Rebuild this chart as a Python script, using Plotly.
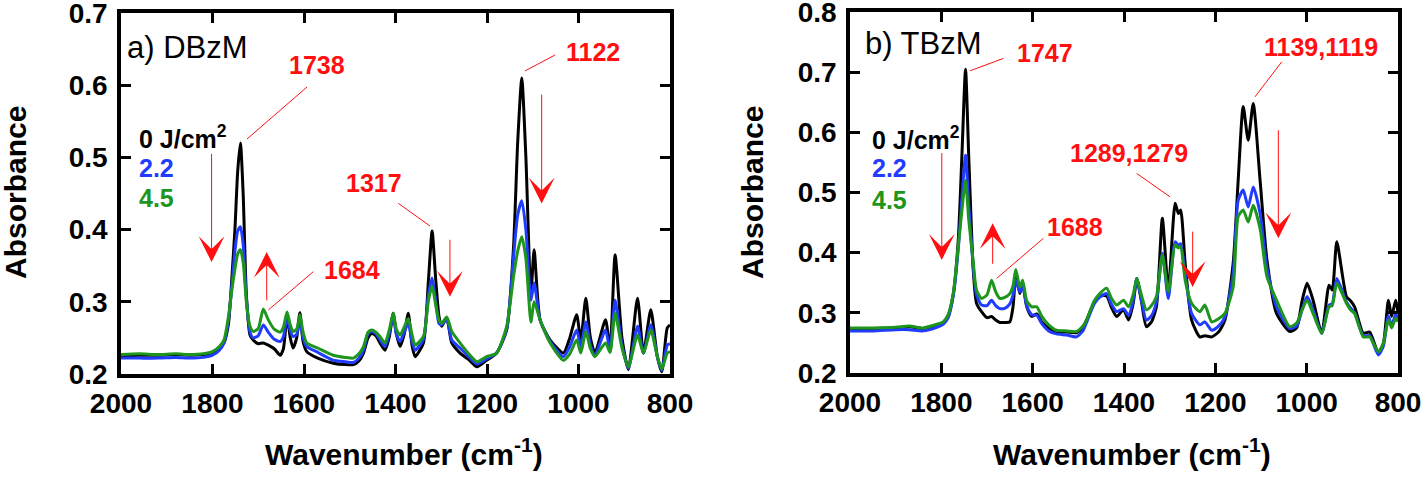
import plotly.graph_objects as go

# ---- panel a) DBzM : wavenumber (cm-1) and absorbance after 0, 2.2, 4.5 J/cm2
wnA = [2000, 1960, 1920, 1880, 1850, 1820, 1800, 1785, 1775, 1765, 1758, 1751, 1745, 1739,
       1733, 1726, 1718, 1711, 1700, 1689, 1678, 1665, 1652, 1645, 1637, 1630, 1624, 1616,
       1609, 1602, 1594, 1570, 1536, 1510, 1492, 1480, 1470, 1460, 1452, 1443, 1434, 1423,
       1414, 1405, 1398, 1390, 1381, 1372, 1364, 1357, 1339, 1328, 1320, 1312, 1305, 1299,
       1288, 1277, 1259, 1240, 1222, 1201, 1179, 1157, 1142, 1133, 1124, 1115, 1104, 1097,
       1084, 1062, 1033, 1019, 1004, 995, 984, 974, 964, 941, 931, 920, 905, 891,
       871, 858, 842, 828, 818, 806, 800]
a_0 = [0.225, 0.226, 0.226, 0.227, 0.226, 0.227, 0.229, 0.235, 0.243, 0.270, 0.330, 0.400, 0.480, 0.520,
       0.450, 0.310, 0.254, 0.247, 0.242, 0.243, 0.240, 0.235, 0.226, 0.235, 0.280, 0.250, 0.236, 0.250,
       0.285, 0.245, 0.231, 0.222, 0.215, 0.213, 0.213, 0.218, 0.229, 0.250, 0.256, 0.253, 0.243, 0.233,
       0.250, 0.284, 0.255, 0.238, 0.255, 0.284, 0.240, 0.224, 0.243, 0.330, 0.398, 0.330, 0.280, 0.266,
       0.278, 0.243, 0.229, 0.220, 0.210, 0.219, 0.229, 0.261, 0.376, 0.520, 0.610, 0.500, 0.312, 0.372,
       0.275, 0.247, 0.229, 0.250, 0.282, 0.247, 0.305, 0.250, 0.229, 0.275, 0.235, 0.365, 0.250, 0.206,
       0.305, 0.229, 0.289, 0.225, 0.203, 0.264, 0.268]
a_22 = [0.222, 0.222, 0.222, 0.223, 0.222, 0.223, 0.226, 0.233, 0.243, 0.275, 0.320, 0.370, 0.398, 0.404,
        0.380, 0.305, 0.258, 0.250, 0.253, 0.268, 0.258, 0.248, 0.245, 0.252, 0.279, 0.260, 0.252, 0.255,
        0.275, 0.250, 0.238, 0.230, 0.219, 0.217, 0.216, 0.222, 0.233, 0.256, 0.259, 0.256, 0.248, 0.238,
        0.255, 0.280, 0.255, 0.245, 0.258, 0.270, 0.245, 0.233, 0.248, 0.310, 0.333, 0.300, 0.270, 0.268,
        0.276, 0.247, 0.236, 0.224, 0.214, 0.221, 0.229, 0.263, 0.362, 0.420, 0.440, 0.400, 0.302, 0.326,
        0.275, 0.245, 0.224, 0.238, 0.261, 0.238, 0.272, 0.240, 0.226, 0.261, 0.232, 0.302, 0.240, 0.208,
        0.266, 0.229, 0.268, 0.225, 0.205, 0.240, 0.242]
a_45 = [0.227, 0.228, 0.227, 0.228, 0.227, 0.228, 0.231, 0.238, 0.247, 0.280, 0.315, 0.345, 0.366, 0.372,
        0.355, 0.300, 0.266, 0.259, 0.263, 0.290, 0.275, 0.262, 0.258, 0.265, 0.286, 0.268, 0.259, 0.262,
        0.282, 0.258, 0.243, 0.236, 0.226, 0.223, 0.222, 0.228, 0.238, 0.258, 0.261, 0.258, 0.252, 0.243,
        0.260, 0.284, 0.262, 0.254, 0.265, 0.277, 0.255, 0.240, 0.252, 0.302, 0.322, 0.295, 0.275, 0.270,
        0.279, 0.259, 0.243, 0.228, 0.217, 0.224, 0.229, 0.266, 0.335, 0.370, 0.390, 0.360, 0.272, 0.300,
        0.275, 0.243, 0.219, 0.228, 0.247, 0.229, 0.259, 0.235, 0.224, 0.243, 0.230, 0.284, 0.236, 0.210,
        0.254, 0.229, 0.261, 0.225, 0.207, 0.229, 0.231]

# ---- panel b) TBzM
wnB = [2000, 1950, 1900, 1870, 1840, 1810, 1796, 1785, 1774, 1763, 1755, 1747, 1740, 1730,
       1723, 1712, 1700, 1690, 1681, 1672, 1660, 1650, 1643, 1637, 1628, 1622, 1613, 1602,
       1591, 1580, 1565, 1548, 1525, 1504, 1490, 1482, 1465, 1453, 1438, 1428, 1416, 1401,
       1390, 1380, 1372, 1362, 1351, 1340, 1329, 1316, 1303, 1288, 1281, 1276, 1266, 1252,
       1234, 1223, 1208, 1193, 1179, 1161, 1150, 1139, 1128, 1117, 1102, 1087, 1066, 1037,
       1022, 1010, 999, 986, 967, 951, 944, 934, 913, 904, 895, 876, 862, 843,
       832, 821, 814, 805, 800]
b_0 = [0.273, 0.273, 0.275, 0.277, 0.274, 0.279, 0.283, 0.295, 0.330, 0.420, 0.560, 0.705, 0.560, 0.370,
       0.316, 0.302, 0.292, 0.294, 0.288, 0.284, 0.284, 0.285, 0.310, 0.360, 0.332, 0.350, 0.310, 0.294,
       0.298, 0.285, 0.275, 0.269, 0.268, 0.267, 0.275, 0.288, 0.318, 0.328, 0.328, 0.310, 0.294, 0.305,
       0.288, 0.315, 0.357, 0.320, 0.277, 0.285, 0.310, 0.457, 0.338, 0.482, 0.465, 0.471, 0.382, 0.288,
       0.260, 0.262, 0.260, 0.268, 0.288, 0.382, 0.520, 0.643, 0.587, 0.648, 0.520, 0.388, 0.299, 0.269,
       0.275, 0.320, 0.349, 0.321, 0.266, 0.346, 0.338, 0.418, 0.327, 0.320, 0.310, 0.266, 0.268, 0.233,
       0.249, 0.321, 0.294, 0.321, 0.300]
b_22 = [0.270, 0.270, 0.272, 0.272, 0.270, 0.276, 0.281, 0.292, 0.328, 0.405, 0.490, 0.562, 0.480, 0.375,
        0.330, 0.313, 0.312, 0.321, 0.312, 0.307, 0.308, 0.315, 0.330, 0.354, 0.335, 0.345, 0.312, 0.297,
        0.296, 0.282, 0.270, 0.265, 0.263, 0.260, 0.270, 0.284, 0.315, 0.326, 0.332, 0.315, 0.302, 0.307,
        0.296, 0.320, 0.357, 0.322, 0.288, 0.295, 0.318, 0.399, 0.324, 0.418, 0.412, 0.415, 0.365, 0.299,
        0.280, 0.285, 0.271, 0.278, 0.293, 0.365, 0.487, 0.504, 0.476, 0.509, 0.465, 0.375, 0.310, 0.274,
        0.278, 0.305, 0.327, 0.305, 0.266, 0.313, 0.315, 0.357, 0.318, 0.308, 0.300, 0.262, 0.262, 0.230,
        0.245, 0.295, 0.278, 0.298, 0.290]
b_45 = [0.275, 0.275, 0.276, 0.278, 0.275, 0.281, 0.285, 0.297, 0.332, 0.410, 0.470, 0.520, 0.455, 0.383,
        0.338, 0.324, 0.330, 0.354, 0.335, 0.324, 0.326, 0.332, 0.345, 0.372, 0.343, 0.354, 0.320, 0.310,
        0.310, 0.294, 0.280, 0.271, 0.270, 0.269, 0.278, 0.288, 0.320, 0.332, 0.341, 0.325, 0.313, 0.321,
        0.310, 0.330, 0.357, 0.330, 0.305, 0.312, 0.327, 0.396, 0.335, 0.413, 0.408, 0.410, 0.354, 0.316,
        0.302, 0.313, 0.285, 0.290, 0.299, 0.343, 0.460, 0.471, 0.451, 0.479, 0.440, 0.360, 0.321, 0.277,
        0.283, 0.305, 0.321, 0.299, 0.266, 0.310, 0.312, 0.349, 0.316, 0.305, 0.299, 0.260, 0.260, 0.235,
        0.250, 0.288, 0.275, 0.291, 0.285]

x_ticks = [2000, 1800, 1600, 1400, 1200, 1000, 800]
y_ticks_a = [0.2, 0.3, 0.4, 0.5, 0.6, 0.7]
y_ticks_b = [0.2, 0.3, 0.4, 0.5, 0.6, 0.7, 0.8]

doses = ["0 J/cm<sup>2</sup>", "2.2", "4.5"]
colors = ["#000000", "#1f3cff", "#1e961e"]
RED = "#ff0f0f"
FONT = "Liberation Sans, Arial, sans-serif"

W, H = 1422, 479

fig = go.Figure()

for ys, c in zip([a_0, a_22, a_45], colors):
    fig.add_trace(go.Scatter(x=wnA, y=ys, mode="lines",
                             line=dict(color=c, width=3, shape="spline", smoothing=0.6),
                             xaxis="x", yaxis="y", showlegend=False))
for ys, c in zip([b_0, b_22, b_45], colors):
    fig.add_trace(go.Scatter(x=wnB, y=ys, mode="lines",
                             line=dict(color=c, width=3, shape="spline", smoothing=0.6),
                             xaxis="x2", yaxis="y2", showlegend=False))

axis_style = dict(showline=True, linewidth=3.5, linecolor="black", mirror="ticks",
                  ticks="inside", ticklen=10, tickwidth=3, tickcolor="black",
                  showgrid=False, zeroline=False, automargin=False, ticklabeloverflow="allow",
                  tickfont=dict(family=FONT, size=28, color="black", weight="bold"))

fig.update_layout(
    width=W, height=H, margin=dict(l=0, r=0, t=0, b=0),
    plot_bgcolor="white", paper_bgcolor="white",
    xaxis=dict(domain=[121 / W, 670 / W], range=[2000, 800], tickvals=x_ticks,
               anchor="y", ticklabelstandoff=2, **axis_style),
    yaxis=dict(domain=[1 - 374 / H, 1 - 13 / H], range=[0.2, 0.7], tickvals=y_ticks_a, tickformat=".1f",
               anchor="x", ticklabelstandoff=4, **axis_style),
    xaxis2=dict(domain=[850 / W, 1398 / W], range=[2000, 800], tickvals=x_ticks,
                anchor="y2", ticklabelstandoff=2, **axis_style),
    yaxis2=dict(domain=[1 - 373 / H, 1 - 12 / H], range=[0.2, 0.8], tickvals=y_ticks_b, tickformat=".1f",
                anchor="x2", ticklabelstandoff=4, **axis_style),
)

ann = []
shapes = []


def label(text, x, y, xr, yr, color=RED, size=25, xanchor="center", bold=True):
    t = "<b>" + text + "</b>" if bold else text
    ann.append(dict(text=t, x=x, y=y, xref=xr, yref=yr, showarrow=False, xanchor=xanchor,
                    yanchor="middle", font=dict(family=FONT, size=size, color=color)))


def leader(x0, y0, x1, y1, xr, yr):
    shapes.append(dict(type="line", x0=x0, y0=y0, x1=x1, y1=y1, xref=xr, yref=yr,
                       line=dict(color=RED, width=1)))


def arrow(x, y_tail, y_tip, xr, yr):
    ann.append(dict(text="", x=x, y=y_tip, ax=x, ay=y_tail, xref=xr, yref=yr, axref=xr, ayref=yr,
                    showarrow=True, arrowhead=3, arrowsize=4.3, arrowwidth=1, arrowcolor=RED))


# panel a
label("a) DBzM", 1991, 0.652, "x", "y", color="black", size=31, xanchor="left", bold=False)
for t, yv, c in zip(doses, [0.528, 0.485, 0.444], colors):
    label(t, 1965, yv, "x", "y", color=c, size=25, xanchor="left")
label("1738", 1571.6, 0.628, "x", "y")
leader(1593.4, 0.5975, 1724.6, 0.5255, "x", "y")
label("1684", 1495.7, 0.344, "x", "y")
leader(1579.7, 0.3417, 1678, 0.2886, "x", "y")
label("1317", 1447, 0.4645, "x", "y")
leader(1393.9, 0.4364, 1324.6, 0.405, "x", "y")
label("1122", 967.7, 0.6456, "x", "y")
leader(1051.4, 0.6418, 1117, 0.6197, "x", "y")
arrow(1802, 0.507, 0.355, "x", "y")
arrow(1681.5, 0.300, 0.369, "x", "y")
arrow(1281, 0.388, 0.307, "x", "y")
arrow(1080.5, 0.589, 0.436, "x", "y")

# panel b
label("b) TBzM", 1971.5, 0.748, "x2", "y2", color="black", size=31, xanchor="left", bold=False)
for t, yv, c in zip(doses, [0.590, 0.5405, 0.4874], colors):
    label(t, 1956, yv, "x2", "y2", color=c, size=25, xanchor="left")
label("1747", 1573, 0.7316, "x2", "y2")
leader(1664.3, 0.7228, 1737.2, 0.7022, "x2", "y2")
label("1688", 1507.3, 0.443, "x2", "y2")
leader(1576.7, 0.4238, 1678.8, 0.3573, "x2", "y2")
label("1289,1279", 1389, 0.5654, "x2", "y2")
leader(1372.2, 0.5317, 1299.3, 0.4929, "x2", "y2")
label("1139,1119", 969.1, 0.742, "x2", "y2")
leader(1054.7, 0.7171, 1113.2, 0.659, "x2", "y2")
arrow(1799, 0.568, 0.388, "x2", "y2")
arrow(1687.6, 0.379, 0.449, "x2", "y2")
arrow(1249.6, 0.4375, 0.343, "x2", "y2")
arrow(1062, 0.606, 0.424, "x2", "y2")

# axis titles
for xp in [15 / W, 752 / W]:
    ann.append(dict(text="<b>Absorbance</b>", x=xp, y=1 - 193 / H, xref="paper", yref="paper",
                    showarrow=False, textangle=-90, xanchor="center", yanchor="middle",
                    font=dict(family=FONT, size=30, color="black")))
for xp in [404 / W, 1132 / W]:
    ann.append(dict(text="<b>Wavenumber (cm<sup>-1</sup>)</b>", x=xp, y=1 - 452 / H,
                    xref="paper", yref="paper", showarrow=False, xanchor="center", yanchor="middle",
                    font=dict(family=FONT, size=30, color="black")))

fig.update_layout(annotations=ann, shapes=shapes)
# drop the browser's default 8px body margin so the figure fills the window exactly
fig.write_html("out.html", config={"displayModeBar": False},
               post_script="document.body.style.margin='0';document.body.style.overflow='hidden';")
